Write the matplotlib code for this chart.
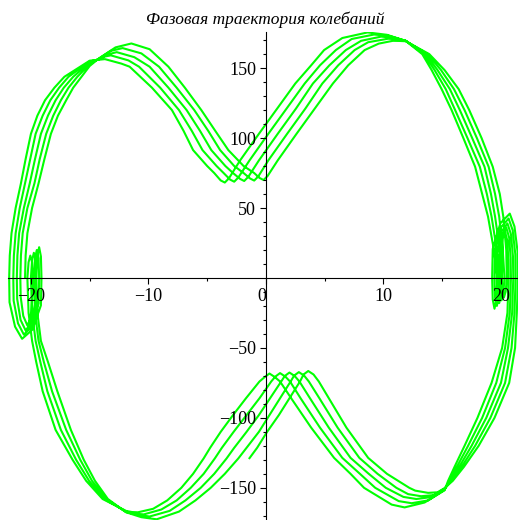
import matplotlib.pyplot as plt

# Phase trajectory x, dx/dt of a forced oscillator: five turns, each turn stored
# station by station; every station row holds (x of turn 0..4, dx/dt of turn 0..4).

# upper half, travelled left -> right
top_rows = [
    ([-20.5, -20.9, -21.2, -21.5, -21.85], [0, 0, 0, 0, 0]),
    ([-20.45, -20.85, -21.15, -21.45, -21.8], [16, 16, 16, 16, 16]),
    ([-20.3, -20.7, -21.0, -21.3, -21.65], [32, 32, 32, 32, 32]),
    ([-19.9, -20.3, -20.6, -20.95, -21.3], [50, 50, 50, 50, 50]),
    ([-19.35, -19.7, -20.1, -20.5, -20.85], [67.6, 67.6, 67.6, 67.6, 67.6]),
    ([-18.85, -19.25, -19.65, -20.05, -20.45], [85, 85, 85, 85, 85]),
    ([-18.3, -18.7, -19.15, -19.6, -20.0], [103, 103, 103, 103, 103]),
    ([-17.7, -18.1, -18.55, -19.0, -19.45], [116, 116, 116, 116, 116]),
    ([-17.0, -17.45, -17.9, -18.35, -18.8], [127, 127, 127, 127, 127]),
    ([-16.4, -16.8, -17.2, -17.6, -18.0], [136, 136, 136, 136, 136]),
    ([-15.7, -16.05, -16.4, -16.8, -17.15], [143.8, 143.8, 143.8, 143.8, 143.8]),
    ([-15.0, -15.0, -15.0, -15.0, -15.0], [151.5, 152.8, 153.9, 154.7, 155.3]),
    ([-14.2, -14.2, -14.2, -14.2, -14.2], [157.0, 156.8, 156.5, 156.3, 156.0]),
    ([-12.8, -13.2, -13.45, -13.7, -13.95], [164.8, 162.3, 159.8, 158.3, 156.2]),
    ([-11.45, -12.2, -12.7, -13.2, -13.7], [167.6, 164.3, 161.4, 159.1, 156.4]),
    ([-9.9, -10.6, -11.2, -11.7, -12.3], [163.5, 160.5, 157.8, 155.5, 153.2]),
    ([-8.3, -9.1, -9.9, -10.8, -11.6], [151, 151, 151, 151, 151]),
    ([-6.9, -7.6, -8.3, -9.0, -9.7], [136, 136, 136, 136, 136]),
    ([-5.5, -6.1, -6.75, -7.4, -8.0], [120, 120, 120, 120, 120]),
    ([-4.3, -4.9, -5.6, -6.3, -7.0], [105, 105, 105, 105, 105]),
    ([-3.2, -3.9, -4.65, -5.4, -6.2], [91.4, 91.4, 91.4, 91.4, 91.4]),
    ([-1.9, -2.7, -3.45, -4.2, -5.0], [80, 80, 80, 80, 80]),
    ([-1.0, -1.9, -2.8, -3.6, -4.4], [75, 75, 75, 75, 75]),
    ([-0.55, -1.35, -2.2, -3.05, -3.85], [71.5, 71.1, 70.8, 70.3, 69.7]),
    ([-0.2, -1.0, -1.85, -2.7, -3.5], [70.0, 69.6, 69.3, 68.8, 68.2]),
    ([0.15, -0.65, -1.5, -2.35, -3.15], [73.0, 72.6, 72.3, 71.8, 71.2]),
    ([1.0, 0.2, -0.6, -1.4, -2.2], [84, 84, 84, 84, 84]),
    ([2.6, 1.8, 1.0, 0.2, -0.6], [103, 103, 103, 103, 103]),
    ([4.15, 3.35, 2.55, 1.75, 0.95], [121, 121, 121, 121, 121]),
    ([5.7, 4.8, 4.0, 3.3, 2.5], [139, 139, 139, 139, 139]),
    ([7.0, 6.15, 5.4, 4.6, 3.85], [152, 152, 152, 152, 152]),
    ([8.4, 7.55, 6.8, 5.95, 4.95], [162.9, 162.9, 162.9, 162.9, 162.9]),
    ([9.6, 8.7, 8.1, 7.3, 6.5], [167.5, 168.5, 169.5, 170.8, 171.5]),
    ([10.8, 10.4, 9.8, 9.2, 8.65], [169.5, 171.0, 172.5, 174.0, 175.5]),
    ([11.35, 11.2, 10.85, 10.5, 10.3], [169.4, 170.6, 171.7, 173.0, 173.8]),
    ([11.9, 11.9, 11.9, 11.9, 11.9], [169.2, 169.4, 169.5, 169.5, 169.4]),
    ([13.9, 13.75, 13.6, 13.45, 13.3], [160, 160, 160, 160, 160]),
    ([15.2, 14.9, 14.6, 14.35, 14.1], [148.6, 148.6, 148.6, 148.6, 148.6]),
    ([16.4, 16.0, 15.65, 15.3, 14.95], [135, 135, 135, 135, 135]),
    ([17.3, 16.9, 16.5, 16.1, 15.8], [120, 120, 120, 120, 120]),
    ([18.35, 17.95, 17.55, 17.15, 16.8], [100, 100, 100, 100, 100]),
    ([19.3, 18.95, 18.6, 18.2, 17.8], [79.5, 79.5, 79.5, 79.5, 79.5]),
    ([19.9, 19.5, 19.15, 18.8, 18.4], [60, 60, 60, 60, 60]),
    ([20.2, 19.85, 19.5, 19.2, 18.9], [43.8, 43.8, 43.8, 43.8, 43.8]),
    ([20.45, 20.15, 19.9, 19.65, 19.4], [20, 20, 20, 20, 20]),
    ([20.5, 20.3, 20.1, 19.9, 19.7], [0, 0, 0, 0, 0]),
]

# small loop at the right turning point
right_loops = [
    ([20.4, 20.2, 20.0, 19.8, 19.6], [-9.8, -11.2, -12.6, -14.0, -15.4]),
    ([20.25, 20.05, 19.85, 19.65, 19.45], [-14, -16, -18, -20, -22]),
    ([20.1, 19.9, 19.7, 19.5, 19.3], [-9.8, -11.2, -12.6, -14.0, -15.4]),
    ([20.05, 19.85, 19.65, 19.45, 19.25], [0, 0, 0, 0, 0]),
    ([20.1, 19.9, 19.7, 19.5, 19.3], [14.9, 16.2, 17.6, 19.1, 20.7]),
    ([20.15, 20.1, 20.05, 20.0, 19.95], [28.0, 30.6, 33.2, 36.1, 39.1]),
    ([20.35, 20.45, 20.55, 20.65, 20.75], [33, 36, 39, 42.5, 46]),
    ([20.55, 20.7, 20.85, 21.0, 21.15], [26.4, 28.8, 31.2, 34.0, 36.8]),
    ([20.62, 20.82, 21.02, 21.22, 21.42], [13.2, 14.4, 15.6, 17.0, 18.4]),
    ([20.65, 20.85, 21.05, 21.25, 21.45], [0, 0, 0, 0, 0]),
]

# lower half, travelled right -> left, down to the point where the last turn stops
bottom_rows = [
    ([20.55, 20.75, 20.95, 21.15, 21.35], [-25, -25, -25, -25, -25]),
    ([20.1, 20.35, 20.6, 20.9, 21.2], [-50, -50, -50, -50, -50]),
    ([19.2, 19.6, 20.0, 20.35, 20.7], [-75, -75, -75, -75, -75]),
    ([18.0, 18.4, 18.75, 19.1, 19.45], [-100, -100, -100, -100, -100]),
    ([16.9, 17.2, 17.5, 17.8, 18.1], [-120, -120, -120, -120, -120]),
    ([16.05, 16.25, 16.45, 16.65, 16.85], [-135, -135, -135, -135, -135]),
    ([15.5, 15.6, 15.7, 15.8, 15.9], [-145, -145, -145, -145, -145]),
    ([15.2, 15.2, 15.2, 15.2, 15.2], [-151.8, -151.4, -151.0, -150.6, -150.2]),
    ([13.5, 13.8, 14.0, 14.3, 14.6], [-160.5, -159.0, -156.7, -155.2, -153.2]),
    ([11.8, 12.4, 12.8, 13.2, 13.8], [-164, -161, -158, -156, -153.6]),
    ([10.7, 11.3, 11.7, 12.1, 12.7], [-162, -159.5, -156.5, -154.5, -152]),
    ([8.35, 9.3, 10.2, 11.1, 12.2], [-150, -150, -150, -150, -150]),
    ([7.2, 8.0, 8.75, 9.5, 10.3], [-140, -140, -140, -140, -140]),
    ([5.8, 6.5, 7.2, 7.95, 8.7], [-128.6, -128.6, -128.6, -128.6, -128.6]),
    ([3.85, 4.6, 5.35, 6.1, 6.85], [-107, -107, -107, -107, -107]),
    ([2.15, 2.95, 3.75, 4.55, 5.35], [-86, -86, -86, -86, -86]),
    ([1.2, 2.05, 2.85, 3.65, 4.5], [-74, -74, -74, -74, -74]),
    ([0.75, 1.65, 2.45, 3.25, 4.05], [-70.8, -70.5, -70.1, -69.8, -69.0]),
    ([0.3, 1.2, 2.0, 2.8, 3.6], [-68.3, -68.0, -67.6, -67.3, -66.5]),
    ([-0.1, 0.8, 1.6, 2.4, 3.2], [-70.8, -70.5, -70.1, -69.8, -69.0]),
    ([-0.55, 0.45, 1.3, 2.1, 2.9], [-74, -74, -74, -74, -74]),
    ([-1.7, -0.55, 0.35, 1.2, 2.0], [-86, -86, -86, -86, -86]),
    ([-2.8, -1.65, -0.6, 0.3, 1.1], [-98, -98, -98, -98, -98]),
    ([-3.85, -2.75, -1.65, -0.6, 0.1], [-110, -110, -110, -110, -110]),
    ([-4.75, -3.75, -2.7, -1.65, -0.75], [-121.4, -121.4, -121.4, -121.4, -121.4]),
    ([-5.3, -4.35, -3.35, -2.35, -1.4], [-129, -129, -129, -129, -128.8]),
]

# rest of the lower half for turns 0..3
bottom_tail = [
    ([-6.2, -5.3, -4.4, -3.5], [-140, -140, -140, -140]),
    ([-7.2, -6.4, -5.55, -4.7], [-150, -150, -150, -150]),
    ([-8.4, -7.6, -6.85, -6.0], [-159, -159, -159, -159]),
    ([-9.6, -8.9, -8.2, -7.4], [-165, -165.5, -166.5, -167]),
    ([-10.9, -10.4, -9.9, -9.3], [-167.5, -169, -170.5, -172.5]),
    ([-11.4, -11.1, -10.8, -10.6], [-167.3, -168.5, -169.5, -171]),
    ([-11.9, -11.9, -11.9, -11.9], [-166.5, -167, -167.3, -167.5]),
    ([-13.9, -13.75, -13.6, -13.45], [-158, -158, -158, -158]),
    ([-15.3, -15.05, -14.8, -14.55], [-145, -145, -145, -145]),
    ([-16.45, -16.15, -15.8, -15.5], [-130, -130, -130, -130]),
    ([-17.9, -17.45, -17.0, -16.6], [-108.6, -108.6, -108.6, -108.6]),
    ([-19.0, -18.6, -18.2, -17.75], [-81, -81, -81, -81]),
    ([-19.55, -19.2, -18.9, -18.55], [-60, -60, -60, -60]),
    ([-19.9, -19.6, -19.35, -19.15], [-45, -45, -45, -45]),
    ([-20.2, -19.9, -19.65, -19.45], [-25, -25, -25, -25]),
    ([-20.3, -20.0, -19.75, -19.55], [0, 0, 0, 0]),
]

# small loop at the left turning point, leading into the next turn
left_loops = [
    ([-20.2, -19.9, -19.65, -19.45], [11.2, 12.6, 14.0, 15.4]),
    ([-20.05, -19.75, -19.5, -19.3], [16, 18, 20, 22]),
    ([-19.9, -19.6, -19.35, -19.15], [11.2, 12.6, 14.0, 15.4]),
    ([-19.85, -19.55, -19.3, -19.1], [0, 0, 0, 0]),
    ([-19.9, -19.6, -19.35, -19.15], [-15.3, -16.9, -18.2, -19.6]),
    ([-20.03, -19.95, -19.9, -19.88], [-28.9, -31.9, -34.4, -37.0]),
    ([-20.3, -20.45, -20.6, -20.75], [-34, -37.5, -40.5, -43.5]),
    ([-20.65, -20.88, -21.1, -21.35], [-27.2, -30.0, -32.4, -34.8]),
    ([-20.87, -21.17, -21.47, -21.82], [-13.6, -15.0, -16.2, -17.4]),
]

title = "Фазовая траектория колебаний"
n_turns = 5

xs, vs = [], []
for k in range(n_turns):
    rows = top_rows + right_loops + bottom_rows
    if k < n_turns - 1:
        rows = rows + bottom_tail + left_loops
    for row_x, row_v in rows:
        xs.append(row_x[k])
        vs.append(row_v[k])

plt.rcParams["font.family"] = ["Liberation Serif", "DejaVu Serif"]

fig = plt.figure(figsize=(5.18, 5.20), dpi=100)
ax = fig.add_axes([8 / 518, 0, 510 / 518, 488 / 520])
ax.plot(xs, vs, color="#00ff00", lw=1.5, solid_joinstyle="round")

ax.set_xlim(-21.95, 21.45)
ax.set_ylim(-173, 175.8)

# axes crossing at the origin, drawn over the curve
ax.set_axisbelow(False)
for side in ["top", "right"]:
    ax.spines[side].set_visible(False)
ax.spines["left"].set_position(("data", 0))
ax.spines["bottom"].set_position(("data", 0))
ax.spines["left"].set_zorder(3)
ax.spines["bottom"].set_zorder(3)

ax.set_xticks([-20, -10, 0, 10, 20], ["\u221220", "\u221210", "0", "10", "20"])
ax.set_xticks([-15, -5, 5, 15], minor=True)
ax.set_yticks([-150, -100, -50, 50, 100, 150],
              ["\u2212150", "\u2212100", "\u221250", "50", "100", "150"])
ax.set_yticks([t for t in range(-170, 180, 10) if t % 50 != 0], minor=True)
ax.tick_params(which="major", direction="out", length=4, width=0.8, labelsize=13)
ax.tick_params(which="minor", direction="out", length=2.5, width=0.8)
ax.tick_params(axis="y", which="major", pad=3)
ax.tick_params(axis="x", which="major", pad=3)
ax.get_xticklabels()[2].set_horizontalalignment("right")

fig.text(0.512, 0.9615, title, ha="center", va="center", fontsize=12.5, style="italic")

fig.savefig("out.png", dpi=100)
